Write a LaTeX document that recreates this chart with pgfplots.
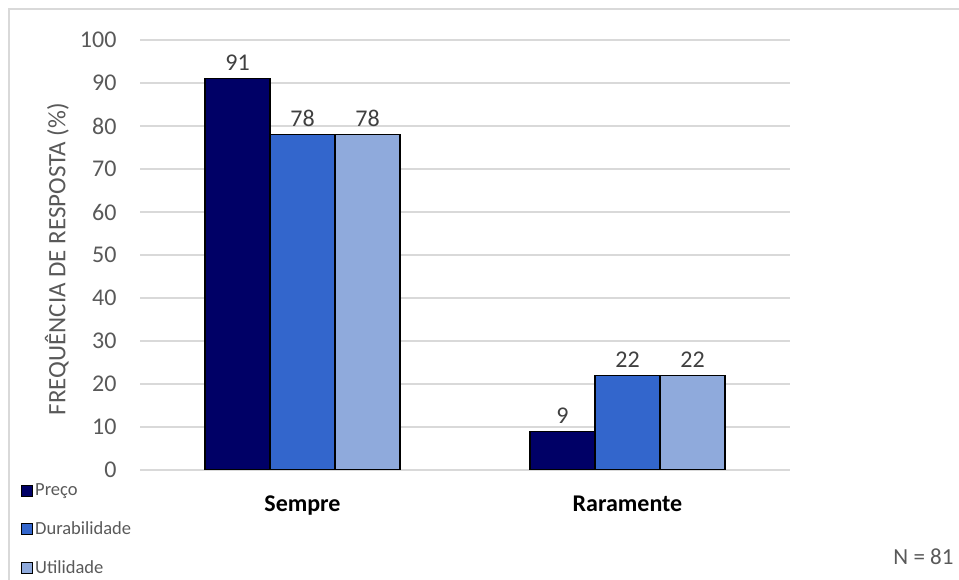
\documentclass[border=0pt]{standalone}
\usepackage{fontspec}
\setmainfont{Carlito}
\usepackage{pgfplots}
\pgfplotsset{compat=1.18}

\definecolor{preco}{HTML}{000066}
\definecolor{dura}{HTML}{3366CC}
\definecolor{util}{HTML}{8FAADC}
\definecolor{gridc}{HTML}{D9D9D9}
\definecolor{tickc}{HTML}{595959}
\definecolor{labc}{HTML}{404040}

\begin{document}
\begin{tikzpicture}[x=1pt,y=1pt]
\path[use as bounding box] (0pt,0pt) rectangle (959pt,580pt);
\draw[gridc, line width=1.5pt] (9pt,0pt) -- (9pt,571pt) -- (959pt,571pt);
\begin{axis}[
    at={(140pt,110pt)}, anchor=south west,
    scale only axis, width=650pt, height=430pt,
    ybar=0pt, bar width=65pt,
    xmin=-0.5, xmax=1.5, ymin=0, ymax=100,
    xtick={0,1}, xticklabels={Sempre,Raramente},
    ytick={0,10,...,100},
    axis line style={draw=none},
    major tick style={draw=none},
    ymajorgrids, grid style={gridc, line width=1.2pt},
    /pgf/number format/assume math mode=true,
    yticklabel style={font=\fontsize{24}{24}\selectfont, text=tickc, xshift=-20pt},
    xticklabel style={font=\fontsize{24}{24}\selectfont\bfseries, text=black, yshift=-18pt},
    ylabel={FREQUÊNCIA DE RESPOSTA (\%)},
    ylabel style={font=\fontsize{25}{25}\selectfont, text=tickc, at={(axis description cs:-0.128,0.49)}, anchor=center},
    nodes near coords,
    every node near coord/.append style={font=\fontsize{24}{24}\selectfont, text=labc, yshift=4pt},
    legend style={at={(axis description cs:-0.188,-0.023)}, anchor=north west, draw=none, fill=none,
        row sep=20.5pt, font=\fontsize{18.5}{18.5}\selectfont, text=tickc},
    legend cell align=left,
    legend image code/.code={\draw[#1,draw=black,line width=1.2pt] (0pt,-5.5pt) rectangle (11pt,5.5pt);},
]
\addplot[fill=preco, draw=black, line width=1.5pt] coordinates {(0,91) (1,9)};
\addplot[fill=dura, draw=black, line width=1.5pt] coordinates {(0,78) (1,22)};
\addplot[fill=util, draw=black, line width=1.5pt] coordinates {(0,78) (1,22)};
\legend{Preço,Durabilidade,Utilidade}
\end{axis}
\node[font=\fontsize{23}{23}\selectfont, text=tickc, anchor=base east] at (957pt,15pt) {N = 81};
\end{tikzpicture}
\end{document}
